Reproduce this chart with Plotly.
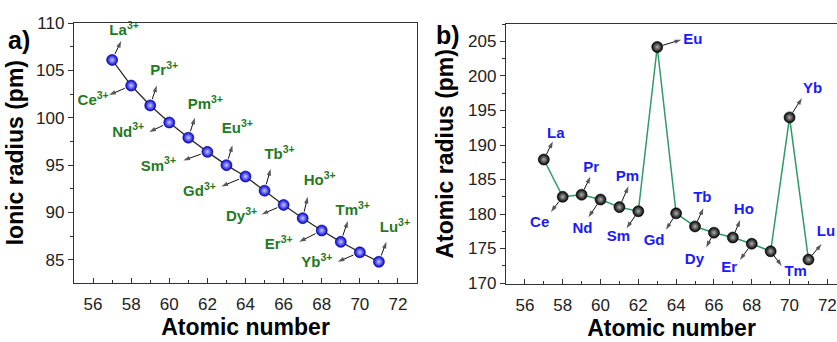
import plotly.graph_objects as go

# ---------------- data ----------------
atomic_number = [57, 58, 59, 60, 61, 62, 63, 64, 65, 66, 67, 68, 69, 70, 71]
elements = ["La", "Ce", "Pr", "Nd", "Pm", "Sm", "Eu", "Gd", "Tb", "Dy", "Ho", "Er", "Tm", "Yb", "Lu"]
ionic_radius = [106.1, 103.4, 101.3, 99.5, 97.9, 96.4, 95.0, 93.8, 92.3, 90.8, 89.4, 88.1, 86.9, 85.8, 84.8]
atomic_radius = [187.9, 182.5, 182.8, 182.1, 181.0, 180.4, 204.2, 180.1, 178.2, 177.3, 176.6, 175.7, 174.6, 194.0, 173.4]
x_tick_vals = [56, 58, 60, 62, 64, 66, 68, 70, 72]
ya_tick_vals = [85, 90, 95, 100, 105, 110]
yb_tick_vals = [170, 175, 180, 185, 190, 195, 200, 205]

# ---------------- layout geometry ----------------
W, H = 837, 342
A_XDOM = [74 / W, 417 / W]
A_YDOM = [1 - 289 / H, 1 - 14.3 / H]
A_XRANGE = [55, 73]
A_YRANGE = [82.58, 110.05]
B_XDOM = [506 / W, 1.0]
B_YDOM = [1 - 290 / H, 1 - 15.7 / H]
B_XRANGE = [55, 72.51]
B_YRANGE = [169.9, 207.55]

# label placement: screen-pixel offsets (right, down) of label centre / arrow head from the point
a_label_off = [(12, -30), (-38, 17), (14, -36), (-41, 11), (17, -34), (-49, 16), (11, -38), (-46, 17),
               (15, -37), (-42, 13), (17, -39), (-43, 16), (12, -32), (-43, 12), (16, -35)]
a_arrow_head = [(9, -20), (-22, 10), (6.5, -21), (-20, 10), (6.5, -21), (-24, 9), (6, -21), (-24, 10.5),
                (6, -23), (-22, 10), (5, -22.5), (-22.5, 12), (7, -22), (-22, 10), (7.5, -21)]
b_label_off = [(12, -27), (-23, 28), (9.5, -27.6), (-18, 31), (8, -32), (-20, 27), (35.5, -7), (-22, 30),
               (7.3, -30), (-19.5, 29), (11, -29), (-22.5, 26), (25, 22), (23, -29.5), (17.5, -29)]
b_arrow_head = [(9, -19), (-11.7, 16), (8.7, -19), (-12, 18.7), (9, -22), (-11.7, 18), (24, -7.7), (-10, 17.3),
                (8.3, -19.3), (-7.7, 15.7), (7.3, -18.4), (-11.7, 17.3), (11, 15.4), (12.3, -20.3), (13, -16.4)]

FONT = "Liberation Sans, Arial, sans-serif"
AXIS_COLOR = "#333333"
GREEN_TXT = "#1f7a1f"
BLUE_TXT = "#1a1aff"
LINE_GREEN = "#2e9a66"


def px_scale(dom_x, rng_x, dom_y, rng_y):
    sx = (dom_x[1] - dom_x[0]) * W / (rng_x[1] - rng_x[0])
    sy = (dom_y[1] - dom_y[0]) * H / (rng_y[1] - rng_y[0])
    return sx, sy


def arrow_coords(xs, ys, heads, standoff, sx, sy):
    ax_, ay_, sizes = [], [], []
    for xv, yv, (hx, hy) in zip(xs, ys, heads):
        d = (hx * hx + hy * hy) ** 0.5
        tx, ty = hx * standoff / d, hy * standoff / d
        ax_ += [xv + tx / sx, xv + hx / sx, None]
        ay_ += [yv - ty / sy, yv - hy / sy, None]
        sizes += [0, 7, 0]
    return ax_, ay_, sizes


def label_coords(xs, ys, offs, sx, sy):
    return ([xv + dx / sx for xv, (dx, dy) in zip(xs, offs)],
            [yv - dy / sy for yv, (dx, dy) in zip(ys, offs)])


fig = go.Figure()

fig.add_trace(go.Scatter(
    x=atomic_number, y=ionic_radius, mode="lines+markers",
    line=dict(color="#2b2b2b", width=1.3),
    marker=dict(size=11, color="#0000d8",
                gradient=dict(type="radial", color="#c8c8ff"),
                line=dict(width=0.6, color="#000080")),
    xaxis="x", yaxis="y", showlegend=False, hoverinfo="skip"))

fig.add_trace(go.Scatter(
    x=atomic_number, y=atomic_radius, mode="lines+markers",
    line=dict(color=LINE_GREEN, width=1.5),
    marker=dict(size=11, color="#000000",
                gradient=dict(type="radial", color="#b0b0b0"),
                line=dict(width=0.6, color="#000000")),
    xaxis="x2", yaxis="y2", showlegend=False, hoverinfo="skip"))

# arrows (line + arrow head marker oriented along the segment)
sxa, sya = px_scale(A_XDOM, A_XRANGE, A_YDOM, A_YRANGE)
axa, aya, sza = arrow_coords(atomic_number, ionic_radius, a_arrow_head, 7, sxa, sya)
fig.add_trace(go.Scatter(
    x=axa, y=aya, mode="lines+markers", xaxis="x", yaxis="y",
    line=dict(color="#111111", width=1),
    marker=dict(symbol="arrow", size=sza, angleref="previous", color="#111111", line=dict(width=0)),
    showlegend=False, hoverinfo="skip", connectgaps=False, cliponaxis=False))

sxb, syb = px_scale(B_XDOM, B_XRANGE, B_YDOM, B_YRANGE)
axb, ayb, szb = arrow_coords(atomic_number, atomic_radius, b_arrow_head, 6, sxb, syb)
fig.add_trace(go.Scatter(
    x=axb, y=ayb, mode="lines+markers", xaxis="x2", yaxis="y2",
    line=dict(color="#111111", width=1),
    marker=dict(symbol="arrow", size=szb, angleref="previous", color="#111111", line=dict(width=0)),
    showlegend=False, hoverinfo="skip", connectgaps=False, cliponaxis=False))

# element labels as text traces
lxa, lya = label_coords(atomic_number, ionic_radius, a_label_off, sxa, sya)
fig.add_trace(go.Scatter(
    x=lxa, y=lya, mode="text", xaxis="x", yaxis="y",
    text=["%s<sup>3+</sup>" % el for el in elements], textposition="middle center",
    textfont=dict(family=FONT, size=15, color=GREEN_TXT, weight="bold"),
    showlegend=False, hoverinfo="skip", cliponaxis=False))

lxb, lyb = label_coords(atomic_number, atomic_radius, b_label_off, sxb, syb)
fig.add_trace(go.Scatter(
    x=lxb, y=lyb, mode="text", xaxis="x2", yaxis="y2",
    text=elements, textposition="middle center",
    textfont=dict(family=FONT, size=15, color=BLUE_TXT, weight="bold"),
    showlegend=False, hoverinfo="skip", cliponaxis=False))

annotations = [
    dict(x=6 / W, y=1 - 16 / H, xref="paper", yref="paper", showarrow=False,
         text="a)", font=dict(family=FONT, size=25, color="black", weight="bold"),
         xanchor="left", yanchor="top"),
    dict(x=434 / W, y=1 - 11 / H, xref="paper", yref="paper", showarrow=False,
         text="b)", font=dict(family=FONT, size=25, color="black", weight="bold"),
         xanchor="left", yanchor="top"),
]

common_x = dict(
    tickmode="array", tickvals=x_tick_vals, ticks="inside", ticklen=5, tickwidth=1,
    tickcolor=AXIS_COLOR, showline=True, linecolor=AXIS_COLOR, linewidth=1.3,
    mirror=True, showgrid=False, zeroline=False,
    tickfont=dict(family=FONT, size=17, color="#222222"),
    ticklabelstandoff=6,
    minor=dict(ticks="inside", ticklen=3, dtick=1, tickcolor=AXIS_COLOR, tickwidth=1, showgrid=False),
)
common_y = dict(
    tickmode="array", ticks="outside", ticklen=5, tickwidth=1,
    tickcolor=AXIS_COLOR, showline=True, linecolor=AXIS_COLOR, linewidth=1.3,
    showgrid=False, zeroline=False,
    tickfont=dict(family=FONT, size=17, color="#222222"),
    minor=dict(ticks="outside", ticklen=3, dtick=2.5, tickcolor=AXIS_COLOR, tickwidth=1, showgrid=False),
)
title_font = dict(family=FONT, size=23, color="black", weight="bold")

fig.update_layout(
    width=W, height=H, autosize=False,
    margin=dict(l=0, r=0, t=0, b=0),
    paper_bgcolor="white", plot_bgcolor="white",
    xaxis=dict(common_x, domain=A_XDOM, range=A_XRANGE, anchor="y",
               title=dict(text="Atomic number", font=title_font, standoff=4)),
    yaxis=dict(common_y, domain=A_YDOM, range=A_YRANGE, anchor="x",
               tickvals=ya_tick_vals, mirror=True,
               title=dict(text="Ionic radius (pm)", font=title_font, standoff=6)),
    xaxis2=dict(common_x, domain=B_XDOM, range=B_XRANGE, anchor="y2",
                title=dict(text="Atomic number", font=title_font, standoff=4)),
    yaxis2=dict(common_y, domain=B_YDOM, range=B_YRANGE, anchor="x2",
                tickvals=yb_tick_vals, mirror=False,
                title=dict(text="Atomic radius (pm)", font=title_font, standoff=8)),
    annotations=annotations,
)

fig.write_html("out.html")
